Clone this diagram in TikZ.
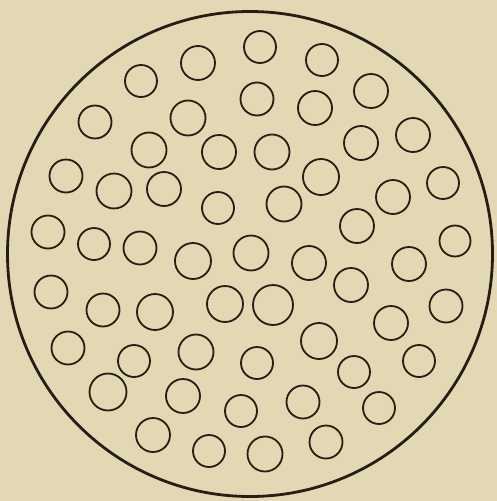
\documentclass[tikz,border=0pt]{standalone}
\definecolor{paper}{HTML}{E3D8B4}
\definecolor{ink}{HTML}{261D15}
\tikzset{
  cell/.style={draw=ink, line width=1.8pt},
  rim/.style={draw=ink, line width=2.8pt}
}
\begin{document}
\begin{tikzpicture}[x=1pt,y=-1pt]
\fill[paper] (0,0) rectangle (497,501);
\useasboundingbox (0,0) rectangle (497,501);
\draw[rim] (250,254) circle (242.5);
\foreach \cx/\cy/\r in {
 260/47/16, 198/63/17, 322/60/16, 141/81/16, 371/91/17,
 257/99/16.5, 315/108/17, 188/118/17.5, 95/122/16.5, 413/135/17,
 149/150/17.5, 219/152/17, 272/152/17.5, 361/143/17, 66/176/16.5,
 114/191/17.5, 164/189/17, 321/177/18, 443/183/16, 218/208/16,
 284/204/17.5, 393/197/17, 357/226/17, 48/232/16.5, 94/244/16,
 140/248/16.5, 455/241/15.5, 193/261/18, 251/253/17.5, 309/263/17,
 409/264/17, 51/292/16.5, 103/310/16.5, 155/312/18, 225/304/18,
 273/305/20, 351/285/17, 446/306/16.5, 391/323/17, 68/348/16.5,
 134/361/16, 196/352/17.5, 319/341/18, 257/363/16, 354/372/16,
 419/361/16, 108/392/18.5, 183/396/17, 241/411/16, 303/402/16.5,
 379/408/16, 153/435/17, 209/451/16, 265/454/17.5, 326/442/16.5}
  \draw[cell] (\cx,\cy) circle (\r);
\end{tikzpicture}
\end{document}
